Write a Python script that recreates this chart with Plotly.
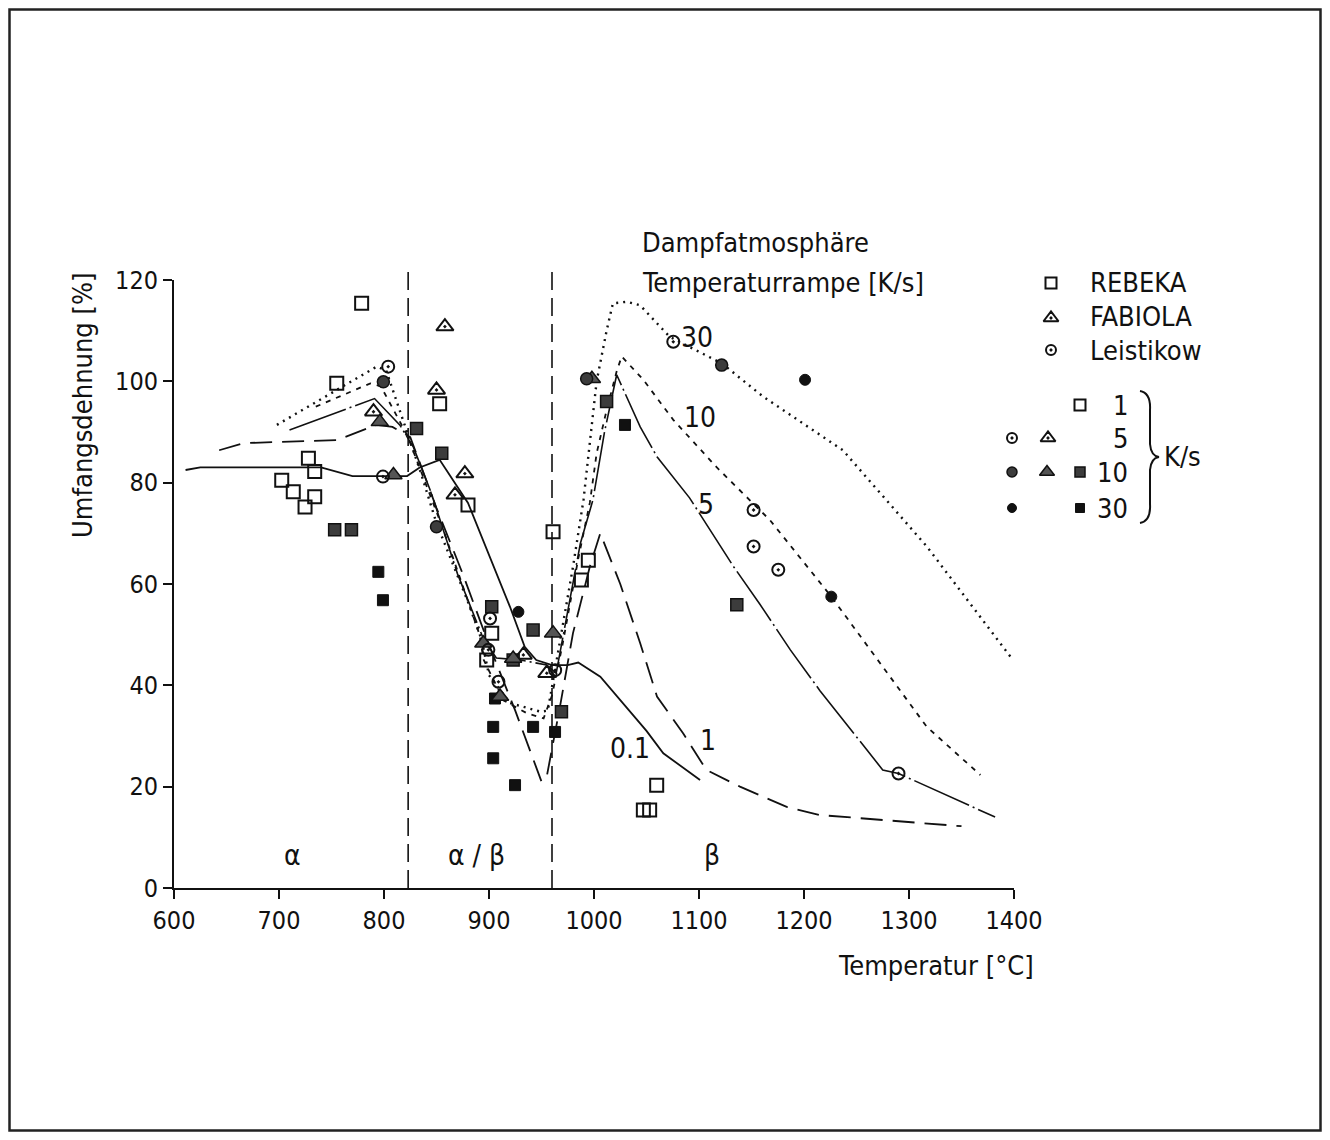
import plotly.graph_objects as go

# ---------------- curves (temperature °C, circumferential strain %) ----------------
T_01 = [611, 625, 740, 770, 822, 834, 853, 880, 920, 934, 945, 960, 975, 985, 1006, 1050, 1066, 1101]
V_01 = [82.5, 83, 83, 81.3, 81.3, 83, 84.5, 76, 55.5, 47.6, 45, 44, 44, 44.5, 41.7, 31, 26.6, 21.3]

T_1 = [643, 666, 755, 793, 808, 825, 850, 875, 900, 925, 950, 955, 967.6, 980, 996, 1006, 1025, 1044, 1060, 1085, 1107, 1139, 1183.5, 1215, 1350]
V_1 = [86.4, 87.8, 88.4, 91.4, 91, 89, 75, 62, 48, 35, 21, 22, 35.8, 50.3, 63.4, 70, 60, 48.3, 37.8, 30.5, 23.3, 20, 16, 14.4, 12.2]

T_5 = [710, 791, 815, 828, 845, 870, 895, 907, 930, 955, 964, 975, 987, 999, 1010, 1021.6, 1044, 1060, 1091, 1133, 1158, 1187, 1215, 1275, 1290, 1382]
V_5 = [90.4, 96.6, 91.4, 87, 78, 62, 49, 45.4, 45, 44, 42.4, 55, 68, 76.6, 90, 101.3, 91, 85.1, 77, 63.4, 56, 47, 39, 23.3, 22.6, 14]

T_10 = [735, 787, 797, 822, 856, 891, 895, 914, 936, 952, 960, 970, 985, 996, 1002.5, 1012, 1021.6, 1026.4, 1047, 1075.5, 1117, 1158, 1167.6, 1226, 1317, 1368]
V_10 = [95, 99.6, 99, 89.4, 71, 50, 45, 37, 34.5, 33.5, 38, 48, 65, 76, 85.8, 94.3, 102, 104.9, 100.3, 92.4, 83, 74.6, 72.6, 57.5, 31.8, 22.3]

T_30 = [698, 793, 802, 822, 835, 850, 879, 893, 900, 920, 949, 956, 964.5, 970.5, 980, 990, 1002.5, 1012, 1018, 1031, 1044, 1072, 1122, 1161, 1237, 1317, 1399]
V_30 = [91.4, 102.9, 102.2, 90, 82, 72, 57, 49, 42, 36.5, 34.8, 35, 45, 51.6, 63.4, 76.6, 100, 110, 115.4, 115.7, 115, 108.8, 103.5, 97, 86.4, 67.4, 45]

# ---------------- measured points ----------------
REB1_T = [778.7, 755, 728, 734, 702.6, 713.6, 734, 724.8, 853, 880, 961, 994.6, 988, 902.6, 897.8, 1059.7, 1047, 1053]
REB1_V = [115.4, 99.6, 84.8, 82.2, 80.5, 78.2, 77.2, 75.2, 95.6, 75.6, 70.3, 64.7, 60.8, 50.3, 45, 20.3, 15.4, 15.4]
REB10_T = [831, 855, 902.6, 942, 969, 923, 1012, 1136, 753, 769]
REB10_V = [90.7, 85.8, 55.5, 50.9, 34.8, 45, 96, 55.9, 70.7, 70.7]
REB30_T = [794.6, 799, 905.7, 904, 904, 924.8, 942, 962.9, 1029.5]
REB30_V = [62.4, 56.8, 37.4, 31.8, 25.6, 20.3, 31.8, 30.8, 91.4]

FAB5_T = [858, 850, 877, 867.6, 790, 955, 932.7]
FAB5_V = [110.8, 98.3, 81.8, 77.6, 94, 42.4, 46]
FAB10_T = [809, 961, 923, 894.6, 910.5, 998, 796]
FAB10_V = [81.5, 50.3, 45.3, 48.3, 37.8, 100.5, 92]

LEI5_T = [804, 901, 899.4, 909, 1075.5, 1152, 1152, 1175.5, 1290, 799, 963]
LEI5_V = [102.9, 53.2, 47, 40.7, 107.8, 74.6, 67.4, 62.8, 22.6, 81.2, 43]
LEI10_T = [799.4, 850, 1121.6, 993]
LEI10_V = [99.9, 71.3, 103.2, 100.5]
LEI30_T = [928, 1201, 1226]
LEI30_V = [54.5, 100.3, 57.5]

# phase boundaries and labels
PHASE_T = [823, 960]
REGION_T = [713, 888, 1112]
REGION_TXT = ["α", "α / β", "β"]
CURVE_LBL = ["30", "10", "5", "0.1", "1"]
CURVE_LBL_T = [1098, 1101, 1107, 1034, 1109]
CURVE_LBL_V = [108.7, 92.8, 75.6, 27.6, 29.2]

X_TICKS = [600, 700, 800, 900, 1000, 1100, 1200, 1300, 1400]
Y_TICKS = [0, 20, 40, 60, 80, 100, 120]

FONT = "DejaVu Sans Condensed, Liberation Sans Narrow, DejaVu Sans, sans-serif"
INK = "#111111"

# page geometry (the figure sits 8 px inside the page)
OFF, FW, FH = 8, 1314, 1124
L, R, TOP, BOT = 174, 1014, 280, 888


def px(x):
    return (x - OFF) / FW


def py(y):
    return 1 - (y - OFF) / FH


fig = go.Figure()

curves = [
    (T_01, V_01, "solid", 1.8),
    (T_1, V_1, "22px,10px", 1.8),
    (T_5, V_5, "60px,4px,2px,4px", 1.6),
    (T_10, V_10, "5px,6px", 1.8),
    (T_30, V_30, "2px,5px", 2.4),
]
for t, v, dash, w in curves:
    fig.add_trace(go.Scatter(x=t, y=v, mode="lines", line=dict(color=INK, width=w, dash=dash),
                             showlegend=False, hoverinfo="skip"))

open_sq = dict(symbol="square-open", size=13, color=INK, line=dict(width=2, color=INK))
hatch_sq = dict(symbol="square", size=12, color="#3c3c3c", line=dict(width=1.5, color=INK))
black_sq = dict(symbol="square", size=11, color=INK, line=dict(width=1, color=INK))
tri5 = dict(symbol="triangle-up-open-dot", size=15, color=INK, line=dict(width=2, color=INK))
tri10 = dict(symbol="triangle-up", size=15, color="#555555", line=dict(width=1.5, color=INK))
cir5 = dict(symbol="circle-open-dot", size=12, color=INK, line=dict(width=2, color=INK))
cir10 = dict(symbol="circle", size=12, color="#3c3c3c", line=dict(width=1.5, color=INK))
cir30 = dict(symbol="circle", size=11, color=INK, line=dict(width=1, color=INK))

pts = [
    (REB1_T, REB1_V, open_sq), (REB10_T, REB10_V, hatch_sq), (REB30_T, REB30_V, black_sq),
    (FAB5_T, FAB5_V, tri5), (FAB10_T, FAB10_V, tri10),
    (LEI5_T, LEI5_V, cir5), (LEI10_T, LEI10_V, cir10), (LEI30_T, LEI30_V, cir30),
]
for t, v, m in pts:
    fig.add_trace(go.Scatter(x=t, y=v, mode="markers", marker=m, showlegend=False,
                             hoverinfo="skip", cliponaxis=False))

# ---------------- custom legend (full-figure pixel-space axes) ----------------
leg = [
    (1051, 283, open_sq), (1051, 318, tri5), (1051, 350, cir5),
    (1080, 405, open_sq),
    (1012, 438, cir5), (1048, 438, tri5),
    (1012, 472, cir10), (1047, 472, tri10), (1080, 472, hatch_sq),
    (1012, 508, cir30), (1080, 508, black_sq),
]
for x, y, m in leg:
    fig.add_trace(go.Scatter(x=[x], y=[y], xaxis="x2", yaxis="y2", mode="markers",
                             marker=dict(m, size=m["size"] - 2), showlegend=False,
                             hoverinfo="skip", cliponaxis=False))

ann = []


def text(x, y, s, size=26, xanchor="left", angle=0):
    ann.append(dict(x=px(x), y=py(y), xref="paper", yref="paper", text=s, showarrow=False,
                    xanchor=xanchor, yanchor="middle", textangle=angle,
                    font=dict(family=FONT, size=size, color=INK)))


text(640, 243, "Dampfatmosphäre", 27)
text(640, 283, "Temperaturrampe [K/s]", 27)
text(1088, 283, "REBEKA", 27)
text(1088, 316, "FABIOLA", 27)
text(1088, 350, "Leistikow", 27)
for s, y in zip(["1", "5", "10", "30"], [405, 438, 472, 508]):
    text(1130, y, s, 27, xanchor="right")
text(1162, 457, "K/s", 27)
text(82, 405, "Umfangsdehnung [%]", 27, xanchor="center", angle=-90)
text(1036, 965, "Temperatur [°C]", 27, xanchor="right")

for t, s in zip(REGION_T, REGION_TXT):
    ann.append(dict(x=t, y=6.5, xref="x", yref="y", text=s, showarrow=False,
                    font=dict(family=FONT, size=28, color=INK)))
for s, t, v in zip(CURVE_LBL, CURVE_LBL_T, CURVE_LBL_V):
    ann.append(dict(x=t, y=v, xref="x", yref="y", text=s, showarrow=False,
                    font=dict(family=FONT, size=28, color=INK)))

shapes = []
for t in PHASE_T:
    shapes.append(dict(type="line", xref="x", yref="paper", x0=t, x1=t, y0=py(BOT), y1=py(272),
                       line=dict(color=INK, width=1.6, dash="18px,8px")))
# legend brace
brace = (f"M {px(1140)},{py(391)} Q {px(1151)},{py(393)} {px(1150)},{py(410)} "
         f"L {px(1150)},{py(444)} Q {px(1151)},{py(456)} {px(1159)},{py(457)} "
         f"Q {px(1151)},{py(458)} {px(1150)},{py(470)} L {px(1150)},{py(504)} "
         f"Q {px(1151)},{py(521)} {px(1140)},{py(523)}")
shapes.append(dict(type="path", xref="paper", yref="paper", path=brace,
                   line=dict(color=INK, width=2)))
# outer frame
shapes.append(dict(type="rect", xref="paper", yref="paper", x0=px(9.5), x1=px(1320.5),
                   y0=py(9.5), y1=py(1130.5), line=dict(color="#222222", width=2.5)))

axis_common = dict(showgrid=False, zeroline=False, showline=True, linecolor=INK, linewidth=2,
                   ticks="outside", ticklen=9, tickwidth=1.5, tickcolor=INK, automargin=False,
                   tickfont=dict(family=FONT, size=25, color=INK), mirror=False)

fig.update_layout(
    width=FW, height=FH,
    margin=dict(l=0, r=0, t=0, b=0, pad=0, autoexpand=False),
    paper_bgcolor="white", plot_bgcolor="rgba(0,0,0,0)",
    xaxis=dict(axis_common, domain=[px(L), px(R)], range=[600, 1400], anchor="y",
               tickvals=X_TICKS, ticktext=[str(v) for v in X_TICKS]),
    yaxis=dict(axis_common, domain=[py(BOT), py(TOP)], range=[0, 120], anchor="x",
               tickvals=Y_TICKS, ticktext=[str(v) for v in Y_TICKS]),
    xaxis2=dict(domain=[0, 1], range=[OFF, OFF + FW], anchor="y2", visible=False, automargin=False),
    yaxis2=dict(domain=[0, 1], range=[OFF + FH, OFF], anchor="x2", visible=False, automargin=False),
    annotations=ann, shapes=shapes, showlegend=False,
)

fig.write_html("out.html")
